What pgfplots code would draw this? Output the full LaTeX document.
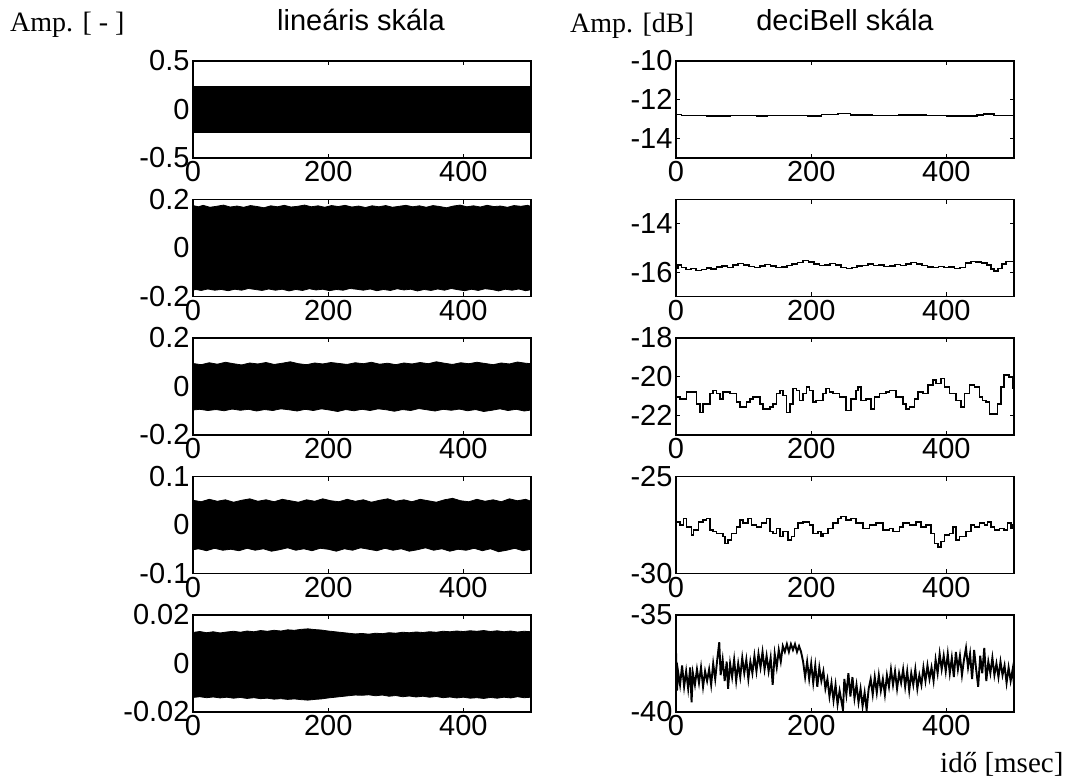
\documentclass[border=0pt]{standalone}
\usepackage{fontspec}
\setmainfont{Liberation Sans}
\newfontfamily\serifa{Liberation Serif}
\usepackage{pgfplots}
\pgfplotsset{compat=1.18}
\begin{document}
\begin{tikzpicture}[x=1pt,y=1pt]
\path[use as bounding box] (0pt,0pt) rectangle (1075pt,-780pt);
\pgfplotsset{
  base/.style={scale only axis, width=338pt, height=97pt, anchor=north west,
    xmin=0, xmax=500, xtick={0,200,400}, xticklabels={0,200,400},
    scaled y ticks=false, scaled x ticks=false,
    tick align=inside, major tick length=4.3pt,
    xtick pos=both, ytick pos=both, xticklabel pos=lower, yticklabel pos=left,
    axis line style={line width=1.3pt, black},
    every tick/.style={line width=1.3pt, black},
    tick label style={font=\fontsize{29}{30}\selectfont},
  },
  band/.style={fill=black, draw=black, line width=0.8pt},
  sig/.style={black, line width=1.6pt, line join=miter},
}
\def\fs{\fontsize{29}{30}\selectfont}
% ---------- left column (linear scale) ----------
\begin{axis}[base, at={(193pt,-61pt)}, ymin=-0.5, ymax=0.5, ytick={-0.5,0,0.5}, yticklabels={-0.5,0,0.5}]
\addplot[fill=black, draw=none] coordinates {(0,0.243) (500,0.243) (500,-0.243) (0,-0.243)} -- cycle;
\end{axis}
\begin{axis}[base, at={(193pt,-199.5pt)}, ymin=-0.2, ymax=0.2, ytick={-0.2,0,0.2}, yticklabels={-0.2,0,0.2}]
\addplot[band] coordinates {
(0,.175) (8,.170) (15,.176) (25,.168) (35,.172) (45,.177) (55,.169) (65,.173) (75,.168) (85,.175)
(95,.171) (105,.166) (115,.174) (125,.170) (135,.176) (145,.169) (155,.172) (165,.177) (175,.170) (185,.174)
(195,.168) (205,.175) (215,.171) (225,.176) (235,.169) (245,.173) (255,.167) (265,.174) (275,.170) (285,.175)
(295,.168) (305,.172) (315,.176) (325,.170) (335,.174) (345,.168) (355,.175) (365,.171) (375,.166) (385,.173)
(395,.177) (405,.170) (415,.174) (425,.169) (435,.176) (445,.171) (455,.173) (465,.168) (475,.175) (485,.172)
(495,.176) (500,.171)
(500,-.172) (492,-.176) (482,-.169) (472,-.174) (462,-.170) (452,-.177) (442,-.171) (432,-.168) (422,-.175) (412,-.170)
(402,-.176) (392,-.172) (382,-.167) (372,-.174) (362,-.169) (352,-.175) (342,-.171) (332,-.177) (322,-.170) (312,-.173)
(302,-.168) (292,-.175) (282,-.171) (272,-.176) (262,-.169) (252,-.174) (242,-.170) (232,-.167) (222,-.174) (212,-.171)
(202,-.176) (192,-.170) (182,-.173) (172,-.168) (162,-.175) (152,-.171) (142,-.177) (132,-.170) (122,-.174) (112,-.169)
(102,-.175) (92,-.171) (82,-.167) (72,-.174) (62,-.170) (52,-.176) (42,-.171) (32,-.174) (22,-.169) (12,-.175)
(4,-.171) (0,-.174)} -- cycle;
\end{axis}
\begin{axis}[base, at={(193pt,-338pt)}, ymin=-0.2, ymax=0.2, ytick={-0.2,0,0.2}, yticklabels={-0.2,0,0.2}]
\addplot[band] coordinates {
(0,.095) (12,.090) (24,.098) (36,.092) (48,.100) (60,.094) (72,.089) (84,.097) (96,.093) (108,.099)
(120,.091) (132,.096) (144,.102) (156,.094) (168,.090) (180,.097) (192,.093) (204,.099) (216,.095) (228,.091)
(240,.098) (252,.094) (264,.100) (276,.092) (288,.096) (300,.090) (312,.097) (324,.093) (336,.099) (348,.094)
(360,.102) (372,.096) (384,.091) (396,.098) (408,.094) (420,.100) (432,.095) (444,.090) (456,.097) (468,.093)
(480,.101) (492,.096) (500,.094)
(500,-.097) (490,-.101) (478,-.094) (466,-.099) (454,-.092) (442,-.098) (430,-.103) (418,-.095) (406,-.100) (394,-.093)
(382,-.098) (370,-.094) (358,-.101) (346,-.096) (334,-.091) (322,-.099) (310,-.095) (298,-.102) (286,-.096) (274,-.092)
(262,-.099) (250,-.094) (238,-.100) (226,-.095) (214,-.103) (202,-.097) (190,-.092) (178,-.099) (166,-.094) (154,-.101)
(142,-.096) (130,-.092) (118,-.099) (106,-.095) (94,-.101) (82,-.094) (70,-.098) (58,-.093) (46,-.100) (34,-.095)
(22,-.099) (10,-.094) (0,-.097)} -- cycle;
\end{axis}
\begin{axis}[base, at={(193pt,-476.5pt)}, ymin=-0.1, ymax=0.1, ytick={-0.1,0,0.1}, yticklabels={-0.1,0,0.1}]
\addplot[band] coordinates {
(0,.051) (12,.048) (24,.053) (36,.049) (48,.052) (60,.047) (72,.051) (84,.054) (96,.049) (108,.052)
(120,.048) (132,.053) (144,.050) (156,.047) (168,.052) (180,.049) (192,.054) (204,.050) (216,.048) (228,.053)
(240,.049) (252,.052) (264,.047) (276,.051) (288,.054) (300,.049) (312,.052) (324,.048) (336,.053) (348,.050)
(360,.047) (372,.052) (384,.055) (396,.050) (408,.048) (420,.053) (432,.049) (444,.052) (456,.048) (468,.054)
(480,.050) (492,.053) (500,.049)
(500,-.050) (488,-.053) (476,-.048) (464,-.052) (452,-.055) (440,-.049) (428,-.053) (416,-.048) (404,-.052) (392,-.050)
(380,-.054) (368,-.049) (356,-.052) (344,-.047) (332,-.051) (320,-.054) (308,-.049) (296,-.052) (284,-.048) (272,-.053)
(260,-.050) (248,-.047) (236,-.052) (224,-.049) (212,-.054) (200,-.050) (188,-.048) (176,-.053) (164,-.049) (152,-.052)
(140,-.047) (128,-.051) (116,-.054) (104,-.049) (92,-.052) (80,-.048) (68,-.053) (56,-.050) (44,-.052) (32,-.048)
(20,-.053) (8,-.049) (0,-.051)} -- cycle;
\end{axis}
\begin{axis}[base, at={(193pt,-615pt)}, ymin=-0.02, ymax=0.02, ytick={-0.02,0,0.02}, yticklabels={-0.02,0,0.02}]
\addplot[band] coordinates {
(0,.0128) (10,.0132) (20,.0127) (30,.0131) (40,.0126) (50,.0130) (60,.0133) (70,.0129) (80,.0134) (90,.0131)
(100,.0136) (110,.0133) (120,.0137) (130,.0134) (140,.0139) (150,.0137) (160,.0141) (170,.0143) (180,.0140) (190,.0138)
(200,.0134) (210,.0131) (220,.0128) (230,.0125) (240,.0122) (250,.0124) (260,.0121) (270,.0125) (280,.0123) (290,.0127)
(300,.0125) (310,.0129) (320,.0127) (330,.0130) (340,.0128) (350,.0131) (360,.0129) (370,.0133) (380,.0131) (390,.0134)
(400,.0132) (410,.0135) (420,.0133) (430,.0136) (440,.0132) (450,.0135) (460,.0131) (470,.0134) (480,.0130) (490,.0133)
(500,.0131)
(500,-.0139) (490,-.0141) (480,-.0137) (470,-.0142) (460,-.0139) (450,-.0143) (440,-.0140) (430,-.0144) (420,-.0141) (410,-.0143)
(400,-.0139) (390,-.0142) (380,-.0138) (370,-.0141) (360,-.0136) (350,-.0139) (340,-.0135) (330,-.0138) (320,-.0134) (310,-.0137)
(300,-.0132) (290,-.0135) (280,-.0130) (270,-.0133) (260,-.0129) (250,-.0131) (240,-.0130) (230,-.0133) (220,-.0136) (210,-.0139)
(200,-.0142) (190,-.0146) (180,-.0148) (170,-.0151) (160,-.0149) (150,-.0146) (140,-.0148) (130,-.0145) (120,-.0147) (110,-.0143)
(100,-.0145) (90,-.0141) (80,-.0144) (70,-.0140) (60,-.0143) (50,-.0139) (40,-.0142) (30,-.0138) (20,-.0141) (10,-.0137)
(0,-.0140)} -- cycle;
\end{axis}
% ---------- right column (dB scale) ----------
\begin{axis}[base, at={(676pt,-61pt)}, ymin=-15, ymax=-10, ytick={-14,-12,-10}, yticklabels={-14,-12,-10}]
\addplot[sig, const plot] coordinates {
(0,-12.75) (8,-12.8) (45,-12.85) (80,-12.8) (120,-12.85) (135,-12.8) (175,-12.8) (195,-12.85) (215,-12.75)
(240,-12.7) (258,-12.78) (290,-12.8) (330,-12.78) (370,-12.8) (400,-12.85) (445,-12.78) (455,-12.72) (470,-12.8) (500,-12.8)};
\end{axis}
\begin{axis}[base, at={(676pt,-199.5pt)}, ymin=-17, ymax=-13, ytick={-16,-14}, yticklabels={-16,-14}]
\addplot[sig, const plot] coordinates {
(0,-15.85) (3,-15.70) (8,-15.80) (15,-15.88) (22,-15.84) (30,-15.92) (38,-15.88) (45,-15.82) (52,-15.86) (60,-15.78)
(68,-15.74) (76,-15.80) (84,-15.70) (92,-15.64) (100,-15.70) (108,-15.76) (116,-15.80) (124,-15.74) (132,-15.68) (140,-15.74)
(148,-15.80) (156,-15.78) (164,-15.72) (172,-15.66) (180,-15.60) (188,-15.52) (196,-15.58) (204,-15.66) (212,-15.72) (220,-15.70)
(228,-15.64) (236,-15.70) (244,-15.80) (252,-15.84) (260,-15.80) (268,-15.74) (276,-15.72) (284,-15.66) (292,-15.72) (300,-15.70)
(308,-15.76) (316,-15.74) (324,-15.68) (332,-15.72) (340,-15.66) (348,-15.60) (356,-15.66) (364,-15.72) (372,-15.78) (380,-15.80)
(388,-15.76) (396,-15.80) (404,-15.78) (412,-15.84) (420,-15.80) (428,-15.62) (436,-15.56) (444,-15.58) (452,-15.62) (460,-15.70)
(466,-15.86) (470,-15.96) (476,-15.84) (482,-15.66) (488,-15.56) (496,-15.56) (500,-15.56)};
\end{axis}
\begin{axis}[base, at={(676pt,-338pt)}, ymin=-23, ymax=-18, ytick={-22,-20,-18}, yticklabels={-22,-20,-18}]
\addplot[sig, const plot] coordinates {
(0,-21.04) (5.9,-21.13) (15.7,-20.78) (25.6,-20.78) (30.5,-21.39) (35.4,-21.83) (40.3,-21.39) (50.2,-20.87) (55.1,-20.70) (60,-20.87)
(64.9,-21.13) (69.8,-20.78) (79.7,-20.87) (89.5,-21.30) (94.4,-21.57) (104.3,-21.30) (109.2,-21.13) (114.1,-21.04) (124,-21.39) (128.8,-21.65)
(138.6,-21.57) (143.6,-21.39) (148.5,-20.87) (153.4,-20.70) (158.3,-20.96) (163.2,-21.83) (168.2,-21.39) (173.1,-20.61) (178,-20.70) (182.9,-21.22)
(187.8,-20.87) (192.8,-20.52) (197.7,-20.70) (202.6,-21.30) (207.5,-21.22) (217.3,-20.87) (222.3,-20.61) (227.2,-20.78) (232.1,-20.87) (241.9,-21.04)
(251.7,-21.74) (259.1,-21.13) (266.5,-20.70) (269,-20.52) (273.9,-21.22) (281.3,-21.13) (288.7,-21.65) (293.6,-21.04) (301,-20.87) (310.8,-20.78)
(315.8,-20.70) (325.6,-21.04) (335.5,-21.39) (340.4,-21.65) (345.3,-21.57) (352.7,-21.13) (357.6,-20.78) (365,-20.87) (372.4,-20.43) (379.8,-20.17)
(384.7,-20.35) (392.1,-20.09) (397,-20.52) (404.4,-20.87) (414.3,-21.22) (421.6,-21.57) (426.6,-20.87) (434,-20.43) (441.3,-20.52) (448.7,-21.04)
(453.6,-21.22) (458.6,-21.30) (463.5,-21.91) (470.9,-21.91) (475.8,-21.39) (480.7,-20.52) (485.6,-19.91) (493,-20.00) (498,-20.61) (500,-20.61)};
\end{axis}
\begin{axis}[base, at={(676pt,-476.5pt)}, ymin=-30, ymax=-25, ytick={-30,-25}, yticklabels={-30,-25}]
\addplot[sig, const plot] coordinates {
(0,-27.33) (5.9,-27.50) (10.8,-27.16) (15.7,-27.59) (23.1,-28.02) (25.6,-27.76) (33,-27.33) (40.3,-27.24) (45.2,-27.16) (50.2,-27.76)
(55.1,-27.84) (60,-27.93) (69.8,-28.10) (72.3,-28.45) (77.2,-28.27) (82.1,-27.93) (89.5,-27.59) (94.4,-27.24) (99.4,-27.41) (106.7,-27.16)
(111.6,-27.50) (119,-27.59) (126.4,-27.41) (133.8,-27.16) (138.6,-27.84) (143.6,-27.93) (148.5,-27.67) (153.4,-28.10) (158.3,-27.84) (165.7,-28.27)
(170.6,-28.10) (175.5,-27.67) (180.4,-27.41) (187.8,-27.33) (197.7,-27.50) (202.6,-27.93) (210,-27.84) (214.9,-28.10) (217.3,-27.93) (224.7,-27.67)
(232.1,-27.41) (239.5,-27.16) (244.4,-27.07) (251.7,-27.24) (259.1,-27.16) (266.5,-27.41) (276.4,-27.67) (286.2,-27.50) (296,-27.41) (305.9,-27.76)
(315.8,-27.67) (320.7,-27.84) (330.5,-27.59) (335.5,-27.41) (345.3,-27.50) (355.2,-27.33) (362.5,-27.59) (369.9,-27.50) (377.3,-27.93) (382.2,-28.45)
(387.2,-28.62) (392.1,-28.36) (397,-28.02) (404.4,-27.93) (409.4,-27.59) (414.3,-28.27) (419.2,-28.10) (429.1,-27.84) (436.5,-27.50) (441.4,-27.59)
(448.7,-27.41) (456.1,-27.50) (461,-27.33) (466,-27.59) (470.9,-27.76) (478.3,-27.67) (485.6,-27.76) (490.5,-27.41) (495.5,-27.67) (498,-27.50) (500,-27.50)};
\end{axis}
\begin{axis}[base, at={(676pt,-615pt)}, ymin=-40, ymax=-35, ytick={-40,-35}, yticklabels={-40,-35}]
\addplot[sig, line width=1.9pt] coordinates {
(0,-36.9) (1.5,-38.9) (3,-37.9) (6,-38.6) (9,-37.6) (12,-38.7) (15,-37.9) (18,-38.8) (21,-37.7) (23,-39.5)
(25,-38.0) (28,-38.6) (31,-37.8) (34,-38.5) (37,-37.7) (40,-38.7) (43,-37.9) (46,-38.4) (49,-37.8) (52,-38.6)
(55,-37.5) (58,-38.3) (61,-37.3) (64,-36.4) (66,-38.1) (69,-37.3) (72,-38.4) (75,-37.4) (77,-38.8) (80,-37.5)
(83,-38.2) (86,-37.3) (89,-38.4) (92,-37.5) (95,-38.2) (98,-37.2) (101,-38.0) (104,-37.3) (107,-38.3) (110,-37.4)
(113,-38.0) (116,-37.1) (119,-37.9) (122,-37.0) (125,-37.7) (128,-36.9) (131,-37.8) (134,-37.1) (137,-37.9) (140,-37.2)
(143,-38.6) (146,-37.0) (149,-37.7) (152,-36.8) (155,-37.4) (158,-36.6) (161,-36.9) (164,-36.5) (167,-36.9) (170,-36.5)
(173,-36.8) (176,-36.5) (179,-36.9) (182,-36.6) (185,-36.9) (188,-37.4) (191,-38.2) (194,-37.4) (197,-38.3) (200,-37.5)
(203,-38.5) (206,-37.6) (209,-38.7) (212,-37.7) (215,-38.4) (218,-37.9) (221,-38.8) (224,-38.3) (227,-39.2) (230,-38.5)
(233,-39.4) (236,-38.6) (239,-39.6) (242,-38.9) (245,-39.5) (247,-39.9) (249,-38.3) (252,-39.1) (255,-38.0) (258,-39.2)
(261,-38.2) (264,-39.3) (267,-38.6) (270,-39.5) (273,-38.8) (276,-39.7) (279,-39.0) (282,-39.9) (285,-38.8) (288,-38.3)
(291,-39.1) (294,-38.2) (297,-39.0) (300,-38.1) (303,-38.9) (306,-38.3) (309,-39.1) (312,-38.1) (315,-38.7) (318,-37.8)
(321,-38.6) (324,-37.9) (327,-38.8) (330,-38.0) (333,-38.5) (336,-37.8) (339,-38.7) (342,-37.9) (345,-38.9) (348,-38.0)
(351,-38.6) (354,-37.8) (357,-38.8) (360,-38.1) (363,-38.6) (366,-37.7) (369,-38.4) (372,-37.6) (375,-38.3) (378,-37.7)
(381,-38.4) (384,-37.3) (387,-38.0) (390,-37.0) (393,-37.8) (396,-37.1) (399,-37.9) (402,-37.0) (405,-38.0) (408,-37.2)
(411,-38.2) (414,-36.9) (417,-37.8) (420,-37.1) (423,-38.1) (426,-37.3) (429,-36.7) (432,-37.7) (435,-37.0) (438,-38.3)
(441,-36.8) (444,-37.8) (447,-38.7) (450,-37.1) (453,-38.0) (456,-36.7) (459,-38.4) (462,-37.4) (465,-38.0) (468,-37.2)
(471,-38.1) (474,-37.5) (477,-38.2) (480,-37.4) (483,-38.1) (486,-37.6) (489,-38.5) (492,-37.7) (495,-38.4) (498,-37.8) (500,-38.6)};
\end{axis}
% ---------- texts ----------
\node[anchor=base west, inner sep=0pt, font=\serifa\fontsize{28}{30}\selectfont] at (10pt,-31pt) {Amp. [ - ]};
\node[anchor=base, inner sep=0pt, font=\fs] at (361pt,-30pt) {lineáris skála};
\node[anchor=base west, inner sep=0pt, font=\serifa\fontsize{28}{30}\selectfont] at (570pt,-32pt) {Amp. [dB]};
\node[anchor=base, inner sep=0pt, font=\fs] at (845pt,-30pt) {deciBell skála};
\node[anchor=base west, inner sep=0pt, font=\serifa\fontsize{29}{30}\selectfont] at (940pt,-772pt) {idő [msec]};
\end{tikzpicture}
\end{document}
